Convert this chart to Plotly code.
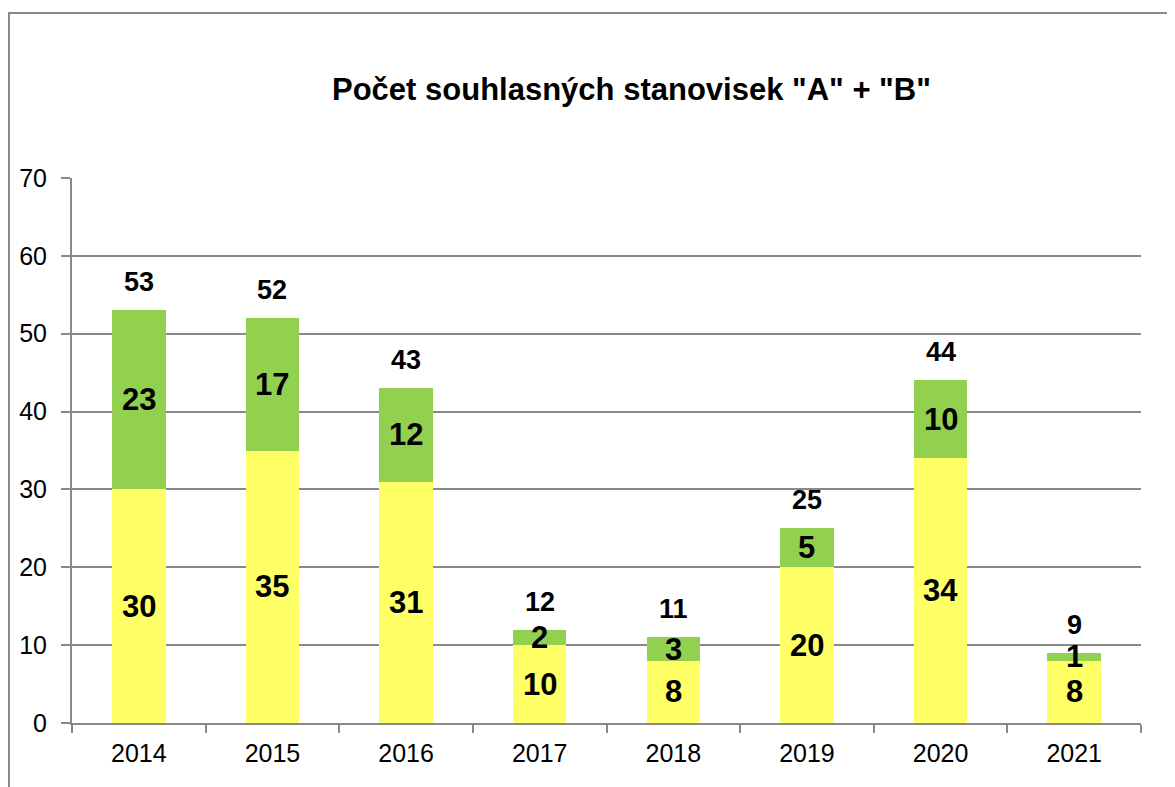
import plotly.graph_objects as go

years = ["2014", "2015", "2016", "2017", "2018", "2019", "2020", "2021"]
stanovisko_a = [30, 35, 31, 10, 8, 20, 34, 8]
stanovisko_b = [23, 17, 12, 2, 3, 5, 10, 1]
totals = [a + b for a, b in zip(stanovisko_a, stanovisko_b)]

title_text = 'Počet souhlasných stanovisek "A" + "B"'
yellow = "#FFFF66"
green = "#92D050"
grey = "#898989"
font_family = "Liberation Sans, Arial, sans-serif"

# page body has 8px default margin; shift everything by that
OFF = 8
W, H = 1175 - OFF, 787 - OFF
L, R, T, B = 72 - OFF, 34, 178 - OFF, 64
pw, ph = W - L - R, H - T - B

fig = go.Figure()
fig.add_trace(go.Bar(x=years, y=stanovisko_a, name="A", marker=dict(color=yellow, line=dict(width=0))))
fig.add_trace(go.Bar(x=years, y=stanovisko_b, name="B", marker=dict(color=green, line=dict(width=0))))

annotations = []
for i, (a, b, t) in enumerate(zip(stanovisko_a, stanovisko_b, totals)):
    annotations.append(dict(x=i, y=a / 2, text=f"<b>{a}</b>", showarrow=False,
                            font=dict(size=31, color="black", family=font_family), yanchor="middle"))
    annotations.append(dict(x=i, y=a + b / 2, text=f"<b>{b}</b>", showarrow=False,
                            font=dict(size=31, color="black", family=font_family), yanchor="middle"))
    annotations.append(dict(x=i, y=t, text=f"<b>{t}</b>", showarrow=False, yshift=11,
                            font=dict(size=27, color="black", family=font_family), yanchor="bottom"))

annotations.append(dict(x=0.5, xref="paper", y=1.0, yref="paper", xanchor="center", yanchor="middle",
                        xshift=631 - (72 + 1141) / 2, yshift=178 - 89,
                        text=f"<b>{title_text}</b>", showarrow=False,
                        font=dict(size=31, color="black", family=font_family)))

fig.update_layout(
    width=W, height=H,
    margin=dict(l=L, r=R, t=T, b=B, autoexpand=False),
    barmode="stack",
    bargap=0.6,
    showlegend=False,
    plot_bgcolor="white",
    paper_bgcolor="white",
    font=dict(family=font_family, size=25, color="black"),
    annotations=annotations,
    shapes=[dict(type="rect", xref="paper", yref="paper",
                 x0=(9 - 72) / pw, x1=(1185 - 72) / pw,
                 y0=-(800 - 723) / ph, y1=1 + (178 - 13) / ph,
                 line=dict(color=grey, width=2), layer="below")],
)
fig.update_xaxes(
    type="category", automargin=False,
    showline=True, linecolor=grey, linewidth=2,
    ticks="outside", tickson="boundaries", ticklen=8, tickcolor=grey, tickwidth=2,
    tickfont=dict(size=25, color="black"), showgrid=False, tickangle=0,
    ticklabelstandoff=7,
)
fig.update_yaxes(
    range=[0, 70], dtick=10, showline=True, linecolor=grey, linewidth=2, automargin=False,
    ticks="outside", ticklen=9, tickcolor=grey, tickwidth=2,
    gridcolor=grey, gridwidth=1.5, zeroline=False,
    tickfont=dict(size=25, color="black"), ticklabelstandoff=9,
)

fig.write_html("out.html")
